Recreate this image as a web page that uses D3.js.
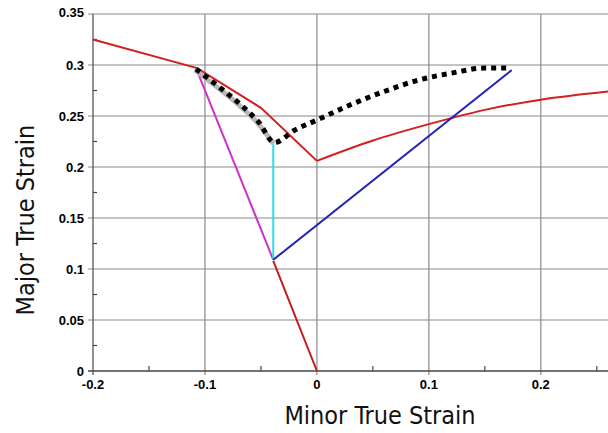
<!DOCTYPE html>
<html><head><meta charset="utf-8">
<script src="https://cdn.jsdelivr.net/npm/d3@7"></script>
<style>body{margin:0;background:#fff}svg{display:block}</style>
</head><body>
<svg id="c" width="608" height="433"></svg>
<script>
// Data (minor strain, major strain)
const flcUpper = [[-0.2,0.325],[-0.107,0.297],[-0.05,0.258],[0,0.206],[0.05,0.226],[0.1,0.242],[0.15,0.256],[0.2,0.266],[0.26,0.274]];
const flcLower = [[0,0],[-0.039,0.108]];
const magentaPath = [[-0.039,0.109],[-0.108,0.297]];
const cyanPath = [[-0.039,0.109],[-0.039,0.224]];
const bluePath = [[-0.039,0.109],[0.174,0.295]];
const dottedDown = [[-0.108,0.296],[-0.088,0.279],[-0.068,0.261],[-0.052,0.244],[-0.038,0.224]];
const dottedUp = [[-0.038,0.224],[-0.02,0.236],[0,0.246],[0.03,0.261],[0.06,0.274],[0.09,0.285],[0.12,0.292],[0.15,0.297],[0.172,0.297]];
const xTicks = [-0.2,-0.1,0,0.1,0.2];
const xMinor = [-0.15,-0.05,0.05,0.15,0.25];
const yTicks = [0,0.05,0.1,0.15,0.2,0.25,0.3,0.35];
const yMinor = [0.025,0.075,0.125,0.175,0.225,0.275,0.325];
const xLabels = ["-0.2","-0.1","0","0.1","0.2"];
const yLabels = ["0","0.05","0.1","0.15","0.2","0.25","0.3","0.35"];

const svg = d3.select("#c");
const x = d3.scaleLinear().domain([-0.2,0.26]).range([93,608]);
const y = d3.scaleLinear().domain([0,0.35]).range([371,14]);
const line = d3.line().x(d=>x(d[0])).y(d=>y(d[1]));
const curve = d3.line().x(d=>x(d[0])).y(d=>y(d[1])).curve(d3.curveMonotoneX);

// grid
svg.append("g").selectAll("line").data(xTicks.slice(1)).join("line")
  .attr("x1",d=>x(d)).attr("x2",d=>x(d)).attr("y1",y(0.35)).attr("y2",y(0)+4)
  .attr("stroke","#8a8a8a").attr("stroke-width",1.2);
svg.append("g").selectAll("line").data(yTicks.slice(1)).join("line")
  .attr("x1",x(-0.2)-5).attr("x2",608).attr("y1",d=>y(d)).attr("y2",d=>y(d))
  .attr("stroke","#8a8a8a").attr("stroke-width",1.2);
// minor ticks
svg.append("g").selectAll("line").data(xMinor).join("line")
  .attr("x1",d=>x(d)).attr("x2",d=>x(d)).attr("y1",y(0)).attr("y2",y(0)-5)
  .attr("stroke","#444").attr("stroke-width",1.2);
svg.append("g").selectAll("line").data(yMinor).join("line")
  .attr("x1",x(-0.2)).attr("x2",x(-0.2)+4).attr("y1",d=>y(d)).attr("y2",d=>y(d))
  .attr("stroke","#444").attr("stroke-width",1.2);
// axes
svg.append("line").attr("x1",x(-0.2)-5).attr("x2",608).attr("y1",y(0)).attr("y2",y(0))
  .attr("stroke","#444").attr("stroke-width",1.3);
svg.append("line").attr("x1",x(-0.2)).attr("x2",x(-0.2)).attr("y1",y(0.35)).attr("y2",y(0)+4)
  .attr("stroke","#555").attr("stroke-width",1.3);

// tick labels
svg.append("g").selectAll("text").data(xTicks).join("text")
  .attr("x",d=>x(d)).attr("y",y(0)+18).attr("text-anchor","middle")
  .attr("font-family","Liberation Sans, Arial, sans-serif").attr("font-weight","bold").attr("font-size",13)
  .text((d,i)=>xLabels[i]);
svg.append("g").selectAll("text").data(yTicks).join("text")
  .attr("x",x(-0.2)-9).attr("y",d=>d===0.35 ? y(d)-2 : y(d)).attr("dy","0.36em").attr("text-anchor","end")
  .attr("font-family","Liberation Sans, Arial, sans-serif").attr("font-weight","bold").attr("font-size",13)
  .text((d,i)=>yLabels[i]);

// titles
svg.append("text").attr("x",380).attr("y",424).attr("text-anchor","middle")
  .attr("font-family","DejaVu Sans Condensed, DejaVu Sans, sans-serif").attr("font-size",25).attr("fill","#111")
  .text("Minor True Strain");
svg.append("text").attr("transform","translate(34,220) rotate(-90)").attr("text-anchor","middle")
  .attr("font-family","DejaVu Sans Condensed, DejaVu Sans, sans-serif").attr("font-size",25).attr("fill","#111")
  .text("Major True Strain");

// series
const plot = svg.append("g");
plot.append("path").datum(flcUpper.slice(0,4)).attr("d",line).attr("fill","none").attr("stroke","#d41f1f").attr("stroke-width",2);
plot.append("path").datum(flcUpper.slice(3)).attr("d",curve).attr("fill","none").attr("stroke","#d41f1f").attr("stroke-width",2);
plot.append("path").datum(flcLower).attr("d",line).attr("fill","none").attr("stroke","#c41a1a").attr("stroke-width",2);
plot.append("path").datum(magentaPath).attr("d",line).attr("fill","none").attr("stroke","#cc33cc").attr("stroke-width",2);
plot.append("path").datum(cyanPath).attr("d",line).attr("fill","none").attr("stroke","#33dde0").attr("stroke-width",2);
plot.append("path").datum(bluePath).attr("d",line).attr("fill","none").attr("stroke","#2222b8").attr("stroke-width",2);
plot.append("path").datum(dottedDown).attr("d",curve).attr("fill","none").attr("stroke","#b8b8b8").attr("stroke-width",5)
  .attr("transform","translate(-1,1)");
plot.append("path").datum(dottedDown.concat(dottedUp.slice(1))).attr("d",curve)
  .attr("fill","none").attr("stroke","#000").attr("stroke-width",5).attr("stroke-dasharray","5,5");
</script>
</body></html>
